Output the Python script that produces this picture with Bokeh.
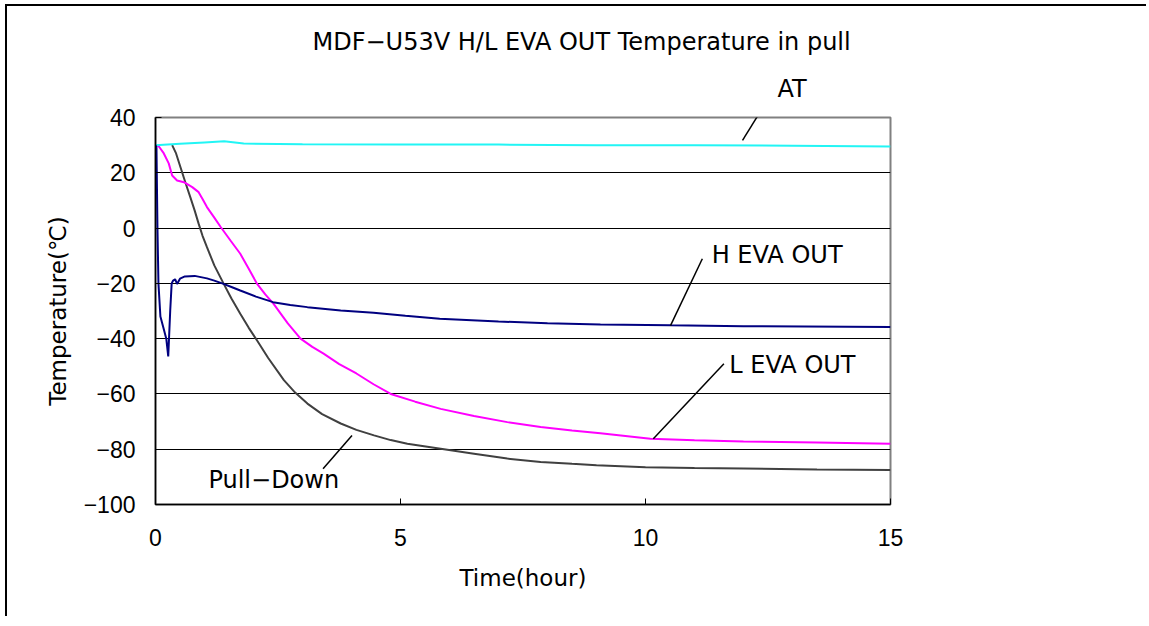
from bokeh.plotting import figure
from bokeh.models import Label, Arrow, FixedTicker, Range1d, Title
from bokeh.embed import file_html
from bokeh.resources import INLINE

# ---- data (hours, °C) ----
t_at = [0, 0.5, 1.0, 1.4, 1.8, 3, 5, 7, 9, 11, 13, 15]
at = [30.0, 30.5, 31.0, 31.4, 30.6, 30.3, 30.2, 30.2, 30.0, 30.0, 29.8, 29.5]

t_h = [0, 0.02, 0.04, 0.06, 0.1, 0.16, 0.22, 0.26, 0.3, 0.33, 0.36, 0.4, 0.44, 0.5, 0.6,
       0.8, 1.05, 1.2, 1.36, 1.55, 1.73, 2.05, 2.4, 2.75, 3.1, 3.78, 4.45, 5.1, 5.8, 7, 8,
       9.08, 10.5, 12, 15]
h_eva = [30, 29, 0, -20, -32, -36, -40, -46.4, -30, -20, -19, -18.5, -20.2, -18.3, -17.5,
         -17.3, -18.2, -19, -20, -21.3, -22.6, -24.8, -26.8, -27.8, -28.6, -29.8, -30.6, -31.7,
         -32.8, -33.8, -34.4, -34.9, -35.2, -35.5, -35.8]

t_l = [0, 0.07, 0.17, 0.27, 0.34, 0.44, 0.58, 0.75, 0.88, 0.96, 1.05, 1.2, 1.33, 1.53, 1.73,
       1.9, 2.07, 2.24, 2.41, 2.7, 2.96, 3.2, 3.43, 3.75, 4.1, 4.45, 4.8, 5.3, 5.82, 6.5,
       7.18, 7.86, 8.5, 9.08, 10.1, 11, 12, 13.5, 15]
l_eva = [30, 29.5, 27, 23.4, 19, 17.2, 16.6, 14.8, 13, 10.5, 7.6, 3.8, 0.4, -4.5, -9.3,
         -14.6, -20.1, -24, -27.4, -34.5, -40, -43, -45.4, -49.2, -52.6, -56.5, -60, -62.8,
         -65.4, -68, -70.2, -72, -73.2, -74.2, -76.2, -76.8, -77.2, -77.6, -78]

t_pd = [0.34, 0.42, 0.51, 0.61, 0.71, 0.8, 0.88, 0.96, 1.05, 1.2, 1.39, 1.55, 1.73, 1.9,
        2.07, 2.3, 2.62, 2.85, 3.1, 3.4, 3.78, 4.1, 4.46, 4.8, 5.14, 5.82, 6.5, 7.18, 7.86,
        8.5, 9, 10, 11, 12, 13.5, 15]
pull_down = [30, 27, 22, 16.5, 11.2, 6.3, 1.6, -2.8, -6.9, -13.5, -20.1, -25.5, -31, -36,
             -40.6, -47, -55, -59.5, -63.5, -67.3, -70.7, -73, -75, -76.7, -78, -79.8, -81.6,
             -83.4, -84.6, -85.3, -85.8, -86.5, -86.8, -87, -87.3, -87.5]

x_ticks = [0, 5, 10, 15]
y_ticks = [-100, -80, -60, -40, -20, 0, 20, 40]
y_tick_labels = {v: (str(v).replace("-", "\u2212")) for v in y_ticks}

title_text = "MDF\u2212U53V H/L EVA OUT Temperature in pull"

# annotation labels inside the plot: (text, x, y) and leaders (x0, y0, x1, y1)
ann_text = ["H EVA OUT", "L EVA OUT", "Pull\u2212Down"]
ann_x = [11.35, 11.71, 1.08]
ann_y = [-9.9, -49.7, -91.3]
lead_x0 = [11.98, 10.51, 10.16, 3.42]
lead_y0 = [31.7, -35.3, -76.2, -87.1]
lead_x1 = [12.61, 11.16, 11.6, 4.01]
lead_y1 = [49.8, -11.1, -49.1, -75.0]
at_text = "AT"

FONT = "DejaVu Sans"
TICKFONT = "Liberation Sans"

p = figure(width=1141, height=612, output_backend="svg", toolbar_location=None,
           x_range=Range1d(0, 15), y_range=Range1d(-100, 40),
           min_border_left=148, min_border_right=258, min_border_top=111, min_border_bottom=114)
p.background_fill_color = "white"
p.border_fill_color = "white"
p.outline_line_color = "#808080"
p.outline_line_width = 2
p.styles = {"border-top": "2px solid black", "border-left": "2px solid black",
            "margin-left": "5px", "margin-top": "4px"}

# title (outermost) and the "AT" callout text (next to the frame)
p.title = Title(text=title_text, align="left", offset=157, text_font=FONT,
                text_font_size="24px", text_font_style="normal", text_color="black", standoff=6)
p.add_layout(Title(text=at_text, align="left", offset=622, text_font=FONT,
                   text_font_size="24px", text_font_style="normal", text_color="black",
                   standoff=29), "above")

# lines
p.line(t_pd, pull_down, line_color="#404040", line_width=2)
p.line(t_l, l_eva, line_color="#FF00FF", line_width=2)
p.line(t_at, at, line_color="#22F5F5", line_width=2)
p.line(t_h, h_eva, line_color="#000080", line_width=2)

# axes
p.xaxis.ticker = FixedTicker(ticks=x_ticks)
p.yaxis.ticker = FixedTicker(ticks=y_ticks)
p.yaxis.major_label_overrides = y_tick_labels
p.xaxis.axis_label = "Time(hour)"
p.yaxis.axis_label = "Temperature(\u2103)"
for ax in (p.xaxis[0], p.yaxis[0]):
    ax.axis_line_color = "black"
    ax.axis_line_width = 1.5
    ax.major_tick_line_color = "black"
    ax.major_tick_in = 6
    ax.major_tick_out = 0
    ax.minor_tick_line_color = None
    ax.major_label_text_font = TICKFONT
    ax.major_label_text_font_size = "23px"
    ax.major_label_text_color = "black"
    ax.axis_label_text_font = FONT
    ax.axis_label_text_font_size = "23px"
    ax.axis_label_text_font_style = "normal"
    ax.axis_label_text_color = "black"
p.xaxis.major_label_standoff = 24
p.yaxis.major_label_standoff = 20
p.xaxis.axis_label_standoff = 16
p.yaxis.axis_label_standoff = 10

p.xgrid.grid_line_color = None
p.ygrid.grid_line_color = "black"
p.ygrid.grid_line_width = 1

# annotations
for i in range(len(ann_text)):
    p.add_layout(Label(x=ann_x[i], y=ann_y[i], text=ann_text[i], text_font=FONT,
                       text_font_size="24px", text_align="left", text_baseline="middle",
                       text_color="black"))
for i in range(len(lead_x0)):
    p.add_layout(Arrow(end=None, x_start=lead_x0[i], y_start=lead_y0[i],
                       x_end=lead_x1[i], y_end=lead_y1[i], line_color="black", line_width=1.5))

open("out.html", "w").write(file_html(p, INLINE))
